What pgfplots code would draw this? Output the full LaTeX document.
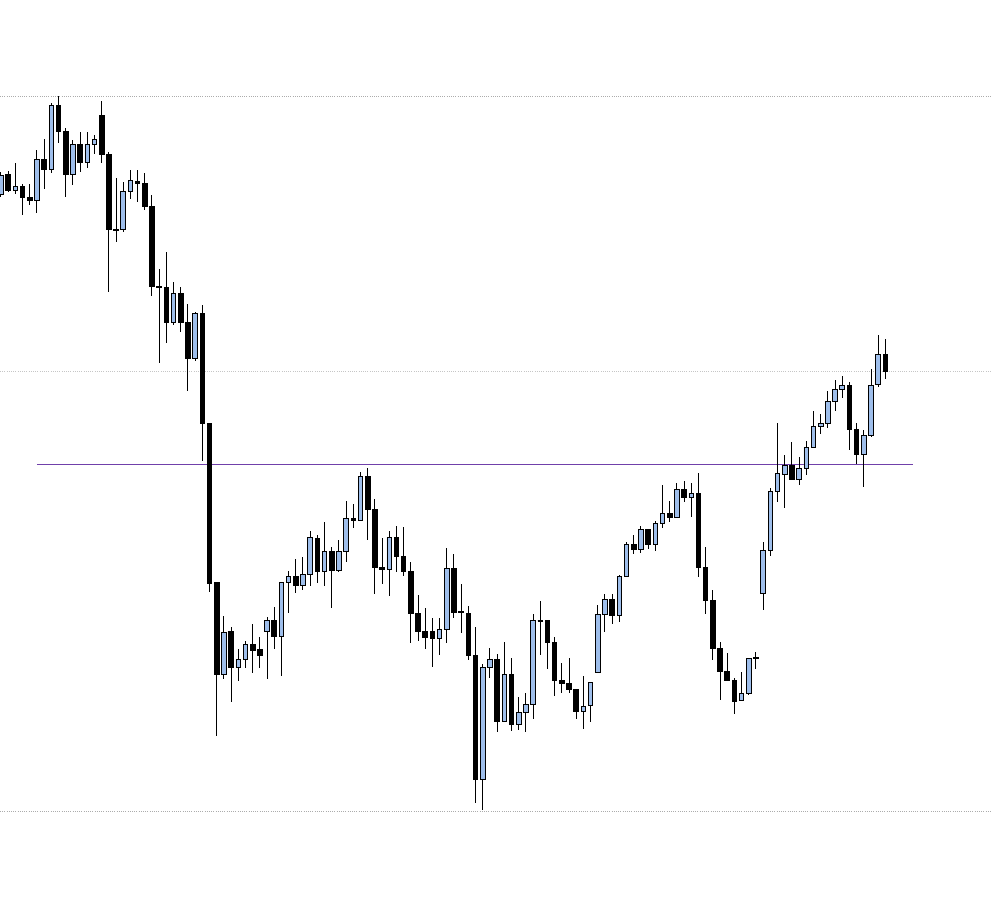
\documentclass[border=0pt]{standalone}
\usepackage{pgfplots}
\usepackage{pgfplotstable}
\pgfplotsset{compat=1.18}
\definecolor{candleblue}{RGB}{158,190,235}
\definecolor{levelpurple}{RGB}{112,64,170}
\pgfplotstableread{
i o h l c
1 194.3 172 197 175
2 174.3 171 191.7 190.7
3 190.3 163 193.7 186.3
4 186.3 184.3 214.7 197.3
5 197.3 184.3 204.7 200.3
6 200.3 150.3 212.7 159.3
7 159.3 139 189.3 169.3
8 169.3 103.3 172.7 105.3
9 105.3 96 142.7 131.3
10 131.3 128 196.7 174.7
11 174.7 140 185 144
12 144 132.3 171.7 162.3
13 162.3 132.3 167.7 144
14 144.3 135 154 139.3
15 115 101 163.3 154.3
16 154.3 152.3 292.3 229.7
17 229 178 241.7 230
18 229.7 182 231.7 191.3
19 191.3 170 198.7 180.3
20 181 170.3 201.7 183.3
21 183.3 173 209.7 206.7
22 206.3 195.3 296 286.7
23 286 269 362.7 287
24 287.3 252 342.7 322.3
25 322.3 282 325.3 293.3
26 293.3 287.3 331.7 322.3
27 322.3 304 390.7 358.7
28 358.7 312 360.7 313
29 313 304.7 460.7 423.7
30 423 423 591.7 583.3
31 582.3 582.3 735.7 674.7
32 674.7 616 678.7 632.3
33 631.3 627.3 701.7 667.7
34 667.7 649.3 680.7 659.3
35 659.3 641.3 667.7 644.3
36 644.3 623.7 672.7 650.3
37 649.3 637 667.7 655.7
38 631.3 616.7 679.3 620.7
39 620.3 607.3 649.3 636.7
40 636.7 582.7 675.7 582.7
41 582.7 570.7 612.7 576.3
42 576.3 559 592.7 585.7
43 585.7 557.3 589.7 574.3
44 574.3 530.7 585.7 537.3
45 538 535.3 582.7 571.7
46 571.7 522.3 585.7 551.3
47 551.3 547.3 607.7 570.3
48 570.7 540 571.7 551.3
49 551.3 500.7 561.7 518.7
50 518.3 504 527.7 520.3
51 520.3 472 521.3 476.3
52 476.3 468.3 540 509.3
53 509.3 499.3 593.7 567.3
54 567 538 583.7 569.7
55 569.3 530.7 595.7 537.3
56 537.3 526.3 571.7 556.3
57 556.3 527 575.7 571.3
58 571 562 642.7 613.7
59 613.3 595 640.7 631.7
60 631.3 608 649.3 637.7
61 631.3 618.3 666.7 638.7
62 638.7 618.3 654.7 629.3
63 629.3 548 643.3 568.3
64 568.3 554 617.7 612.7
65 611.5 583.7 632.7 612.5
66 613.3 606.3 659.7 655.3
67 655.3 627 803.3 779.3
68 779.3 664.3 810 667
69 667 647.7 678 659
70 659 654.3 732.3 721.7
71 721.7 642 721.7 674.3
72 674.3 658 731.3 724.3
73 724.3 697 729.7 712.3
74 712.3 693 732.3 704
75 704 614.3 719.3 620.3
76 620 601 654.7 621
77 620.3 620.3 669.3 642.7
78 642.3 636.7 695.7 680.7
79 680.3 663.3 692.7 683.7
80 683.3 658 692.7 689.3
81 689.3 689.3 719.3 711.7
82 711.7 676 728.7 706.3
83 705.3 682.3 721.7 682.3
84 672.3 605 672.3 614.3
85 614.3 594 631.7 599.3
86 599.3 594.3 623.7 615.7
87 615.7 575.3 621.7 576.3
88 576.3 542 577.3 544.3
89 544.3 535 553.7 549.3
90 549.3 526.3 553.3 529.3
91 529.3 529.3 548.7 544.3
92 544.3 521.3 551.3 523
93 523 485 528.3 513.3
94 513.3 501.3 521.7 517.3
95 517.3 483.3 518.3 489.3
96 489.3 481 502.3 497.3
97 497.3 483.3 516.7 493.3
98 493.3 473 577.3 567.3
99 567.3 547 614.3 600.3
100 600.3 590.3 660.3 648.3
101 648.3 642.3 700.3 671.3
102 671.3 653.3 680.3 680.3
103 680.3 678.3 714.3 701.3
104 700.3 672.3 700.3 693.3
105 693.3 658.3 695.3 658.3
106 657.2 652.3 669.3 658.2
107 593.3 542.3 610.3 550.3
108 550.3 488.3 555.7 491.7
109 491.7 423.3 501.7 473.3
110 474.3 455.3 508.3 465.3
111 465.3 442.3 479.3 479.3
112 479.3 457.3 485.3 468.3
113 468.3 441.3 475.3 447.3
114 447.3 411 448.3 426.3
115 426.3 414.3 434.3 423.3
116 423.3 390.7 428.3 401.3
117 401.3 380.3 410.7 389.3
118 389.3 376.3 398.3 385.3
119 385.3 382.3 450.3 429.3
120 429.3 423.3 464.3 454.3
121 454.3 429.7 487.3 435.7
122 435.7 369.3 436.7 385.3
123 384.3 335 387.3 354.3
124 354.3 339 379.3 371
}\candles
\pgfplotsset{candleaxis/.style={scale only axis, width=992pt, height=916pt,
  xmin=0.861, xmax=138.83, ymin=0, ymax=916, y dir=reverse, hide axis}}
\begin{document}
\begin{tikzpicture}
\begin{axis}[candleaxis, name=ax]
  % dotted horizontal grid lines
  \addplot[gray!65, line width=0.8pt, dash pattern=on 1pt off 1.2pt] coordinates {(0.861,96) (138.83,96)};
  \addplot[gray!45, line width=0.8pt, dash pattern=on 1pt off 1.2pt] coordinates {(0.861,371) (138.83,371)};
  \addplot[gray!65, line width=0.8pt, dash pattern=on 1pt off 1.2pt] coordinates {(0.861,811.3) (138.83,811.3)};
  % level line
  \addplot[levelpurple, line width=1pt] coordinates {(6.0,464.3) (127.84,464.3)};
  % wicks
  \addplot[draw=none, mark=none,
    error bars/.cd, y dir=both, y explicit, error mark=none,
    error bar style={draw=black, solid, line width=1pt}]
    table[x=i, y expr={(\thisrow{h}+\thisrow{l})/2}, y error expr={(\thisrow{l}-\thisrow{h})/2}] {\candles};
\end{axis}
\begin{axis}[candleaxis, ybar stacked, bar width=4.6pt]
  \addplot[draw=none, fill=none] table[x=i, y expr={min(\thisrow{o},\thisrow{c})}] {\candles};
  \addplot[fill=black, draw=black, line width=0.9pt] table[x=i, y expr={ifthenelse(\thisrow{c}>\thisrow{o},\thisrow{c}-\thisrow{o},0)}] {\candles};
  \addplot[fill=candleblue, draw=black, line width=0.9pt] table[x=i, y expr={ifthenelse(\thisrow{o}>\thisrow{c},\thisrow{o}-\thisrow{c},0)}] {\candles};
\end{axis}
\pgfresetboundingbox
\path[use as bounding box] (ax.south west) rectangle (ax.north east);
\end{tikzpicture}
\end{document}
